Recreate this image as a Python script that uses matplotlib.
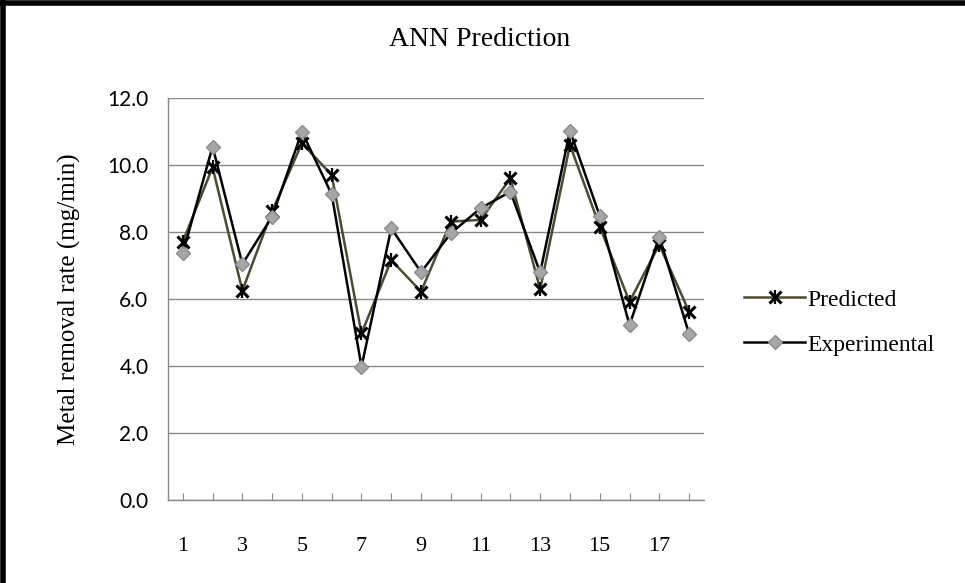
import numpy as np
import matplotlib
matplotlib.use("Agg")
import matplotlib.pyplot as plt
from matplotlib.lines import Line2D

runs = np.arange(1, 19)
predicted = [7.71, 9.93, 6.25, 8.62, 10.65, 9.70, 4.97, 7.16, 6.22,
             8.31, 8.36, 9.60, 6.29, 10.60, 8.16, 5.92, 7.62, 5.62]
experimental = [7.36, 10.55, 7.04, 8.46, 10.99, 9.12, 3.98, 8.11, 6.80,
                7.96, 8.71, 9.20, 6.79, 11.02, 8.48, 5.22, 7.86, 4.96]

serif = "Liberation Serif"
olive = "#4d4a2e"

fig = plt.figure(figsize=(9.65, 5.83), dpi=100)
ax = fig.add_axes([0.174, 0.1424, 0.5555, 0.6896])

ax.plot(runs, predicted, color=olive, lw=1.8, marker="x", ms=8,
        mec="black", mew=2.2, zorder=3)
ax.plot(runs, predicted, lw=0, marker="|", ms=10, mec="black",
        mew=1.6, zorder=3)
ax.plot(runs, experimental, color="black", lw=1.8, marker="D", ms=7.5,
        mfc="#a6a6a6", mec="#8c8c8c", mew=1, zorder=4)

ax.set_xlim(0.5, 18.5)
ax.set_ylim(0, 12)
yt = np.arange(0, 12.1, 2)
ax.set_yticks(yt)
ax.set_yticklabels([f"{v:.1f}" for v in yt], family="Lato", fontsize=15)
ax.set_xticks(runs)
ax.set_xticklabels([str(r) if r % 2 == 1 else "" for r in runs],
                   family=serif, fontsize=16)
ax.tick_params(axis="x", direction="in", length=5, color="#888888", pad=27)
ax.tick_params(axis="y", length=0, pad=14)
ax.yaxis.grid(True, color="#888888", lw=1)
ax.set_axisbelow(True)
for s in ["top", "right"]:
    ax.spines[s].set_visible(False)
for s in ["left", "bottom"]:
    ax.spines[s].set_color("#888888")
    ax.spines[s].set_linewidth(1)

ax.set_ylabel("Metal removal rate (mg/min)", family=serif, fontsize=18,
              labelpad=19)
fig.text(0.497, 0.932, "ANN Prediction", family=serif, fontsize=20,
         ha="center", va="center")

star = (Line2D([], [], color=olive, lw=1.8, marker="x", ms=8, mec="black",
               mew=2.2),
        Line2D([], [], lw=0, marker="|", ms=10, mec="black", mew=1.6))
diamond = Line2D([], [], color="black", lw=1.8, marker="D", ms=7.5,
                 mfc="#a6a6a6", mec="#8c8c8c", mew=1)
fig.legend([star, diamond], ["Predicted", "Experimental"],
           loc="center left", bbox_to_anchor=(0.749, 0.447), frameon=False,
           prop={"family": serif, "size": 17}, handlelength=2.6,
           handletextpad=0.1, labelspacing=1.0)

# frame lines on top and left of the picture
fig.add_artist(Line2D([0.003, 0.003], [0, 1], color="black", lw=4,
                      transform=fig.transFigure))
fig.add_artist(Line2D([0, 1], [0.995, 0.995], color="black", lw=4,
                      transform=fig.transFigure))

fig.savefig("out.png", dpi=100)
